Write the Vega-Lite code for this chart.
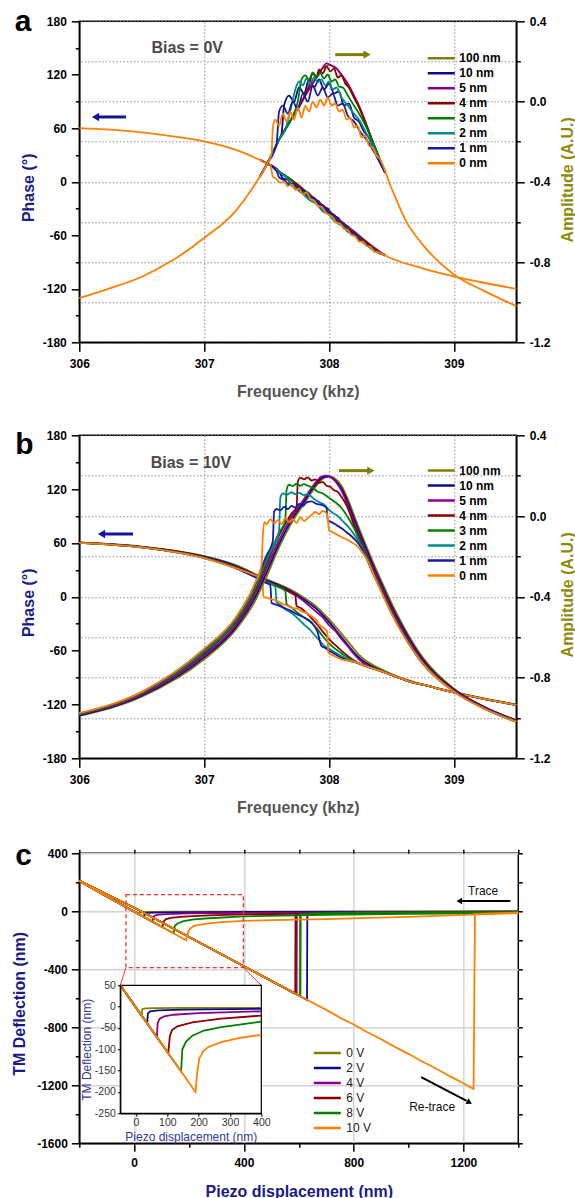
{
"$schema": "https://vega.github.io/schema/vega-lite/v6.json",
"padding": {"left": 10.3, "top": 5.3, "right": 0, "bottom": 0},
"background": "white",
"config": {
  "font": "Liberation Sans",
  "locale": {"number": {"decimal": ".", "thousands": ",", "grouping": [3], "currency": ["$", ""], "minus": "-"}},
  "view": {"stroke": "#000000", "strokeWidth": 1.5},
  "axis": {"labelFont": "Liberation Sans", "titleFont": "Liberation Sans", "labelFontWeight": "bold", "labelFontSize": 12, "labelColor": "#000000", "titleFontWeight": "bold", "titleFontSize": 16, "domainColor": "#000000", "domainWidth": 1.5, "tickColor": "#000000", "tickWidth": 1.5},
  "legend": {"labelFont": "Liberation Sans"},
  "text": {"font": "Liberation Sans"}
},
"datasets": {
"aP": [
{"s":"100 nm","x":307.45,"y":24.5},{"s":"100 nm","x":307.5,"y":21},{"s":"100 nm","x":307.6,"y":11.5},{"s":"100 nm","x":307.7,"y":2},{"s":"100 nm","x":307.8,"y":-9},{"s":"100 nm","x":307.9,"y":-20.5},{"s":"100 nm","x":308,"y":-32.5},{"s":"100 nm","x":308.1,"y":-44.5},{"s":"100 nm","x":308.2,"y":-55.5},{"s":"100 nm","x":308.3,"y":-67},{"s":"100 nm","x":308.4,"y":-78.5},{"s":"100 nm","x":308.45,"y":-82.5},
{"s":"10 nm","x":307.45,"y":24.5},{"s":"10 nm","x":307.5,"y":21},{"s":"10 nm","x":307.6,"y":11.5},{"s":"10 nm","x":307.63,"y":4},{"s":"10 nm","x":307.67,"y":2},{"s":"10 nm","x":307.71,"y":-5},{"s":"10 nm","x":307.75,"y":-4},{"s":"10 nm","x":307.79,"y":-12},{"s":"10 nm","x":307.83,"y":-12},{"s":"10 nm","x":307.87,"y":-20},{"s":"10 nm","x":307.91,"y":-21},{"s":"10 nm","x":307.95,"y":-28},{"s":"10 nm","x":307.99,"y":-30},{"s":"10 nm","x":308.03,"y":-38},{"s":"10 nm","x":308.07,"y":-40},{"s":"10 nm","x":308.11,"y":-48},{"s":"10 nm","x":308.15,"y":-50},{"s":"10 nm","x":308.2,"y":-58},{"s":"10 nm","x":308.25,"y":-64},{"s":"10 nm","x":308.3,"y":-70},{"s":"10 nm","x":308.36,"y":-76},{"s":"10 nm","x":308.45,"y":-82.5},
{"s":"5 nm","x":307.45,"y":24.5},{"s":"5 nm","x":307.5,"y":21},{"s":"5 nm","x":307.6,"y":11},{"s":"5 nm","x":307.7,"y":1},{"s":"5 nm","x":307.8,"y":-10},{"s":"5 nm","x":307.9,"y":-21},{"s":"5 nm","x":308,"y":-33},{"s":"5 nm","x":308.1,"y":-45},{"s":"5 nm","x":308.2,"y":-56},{"s":"5 nm","x":308.3,"y":-67.5},{"s":"5 nm","x":308.45,"y":-82.5},
{"s":"4 nm","x":307.45,"y":24.5},{"s":"4 nm","x":307.5,"y":21},{"s":"4 nm","x":307.6,"y":11.5},{"s":"4 nm","x":307.7,"y":2},{"s":"4 nm","x":307.8,"y":-9.5},{"s":"4 nm","x":307.85,"y":-17},{"s":"4 nm","x":307.9,"y":-22},{"s":"4 nm","x":307.95,"y":-30},{"s":"4 nm","x":308,"y":-34},{"s":"4 nm","x":308.05,"y":-42},{"s":"4 nm","x":308.1,"y":-46},{"s":"4 nm","x":308.15,"y":-53},{"s":"4 nm","x":308.2,"y":-57},{"s":"4 nm","x":308.25,"y":-63},{"s":"4 nm","x":308.3,"y":-68},{"s":"4 nm","x":308.35,"y":-74},{"s":"4 nm","x":308.45,"y":-82.5},
{"s":"3 nm","x":307.45,"y":24.5},{"s":"3 nm","x":307.5,"y":21},{"s":"3 nm","x":307.6,"y":11.5},{"s":"3 nm","x":307.7,"y":1.5},{"s":"3 nm","x":307.75,"y":-6},{"s":"3 nm","x":307.8,"y":-12},{"s":"3 nm","x":307.85,"y":-19},{"s":"3 nm","x":307.9,"y":-23},{"s":"3 nm","x":307.95,"y":-31},{"s":"3 nm","x":308,"y":-36},{"s":"3 nm","x":308.05,"y":-43},{"s":"3 nm","x":308.1,"y":-48},{"s":"3 nm","x":308.15,"y":-54},{"s":"3 nm","x":308.2,"y":-59},{"s":"3 nm","x":308.25,"y":-64},{"s":"3 nm","x":308.3,"y":-70},{"s":"3 nm","x":308.35,"y":-75},{"s":"3 nm","x":308.45,"y":-82.5},
{"s":"2 nm","x":307.45,"y":24.5},{"s":"2 nm","x":307.5,"y":21},{"s":"2 nm","x":307.6,"y":11.5},{"s":"2 nm","x":307.65,"y":6},{"s":"2 nm","x":307.7,"y":-3},{"s":"2 nm","x":307.75,"y":-9},{"s":"2 nm","x":307.8,"y":-15},{"s":"2 nm","x":307.85,"y":-21},{"s":"2 nm","x":307.9,"y":-25},{"s":"2 nm","x":307.95,"y":-33},{"s":"2 nm","x":308,"y":-37},{"s":"2 nm","x":308.05,"y":-45},{"s":"2 nm","x":308.1,"y":-49},{"s":"2 nm","x":308.15,"y":-56},{"s":"2 nm","x":308.2,"y":-60},{"s":"2 nm","x":308.25,"y":-66},{"s":"2 nm","x":308.3,"y":-71},{"s":"2 nm","x":308.35,"y":-76},{"s":"2 nm","x":308.45,"y":-82.5},
{"s":"1 nm","x":307.45,"y":24.5},{"s":"1 nm","x":307.5,"y":21},{"s":"1 nm","x":307.58,"y":12},{"s":"1 nm","x":307.6,"y":5},{"s":"1 nm","x":307.64,"y":2},{"s":"1 nm","x":307.68,"y":-3},{"s":"1 nm","x":307.72,"y":-2},{"s":"1 nm","x":307.76,"y":-9},{"s":"1 nm","x":307.8,"y":-10},{"s":"1 nm","x":307.84,"y":-17},{"s":"1 nm","x":307.88,"y":-18},{"s":"1 nm","x":307.92,"y":-25},{"s":"1 nm","x":307.96,"y":-27},{"s":"1 nm","x":308,"y":-35},{"s":"1 nm","x":308.04,"y":-37},{"s":"1 nm","x":308.08,"y":-45},{"s":"1 nm","x":308.12,"y":-47},{"s":"1 nm","x":308.16,"y":-55},{"s":"1 nm","x":308.2,"y":-58},{"s":"1 nm","x":308.25,"y":-65},{"s":"1 nm","x":308.3,"y":-70},{"s":"1 nm","x":308.36,"y":-77},{"s":"1 nm","x":308.45,"y":-82.5},
{"s":"0 nm","x":306,"y":60.3},{"s":"0 nm","x":306.25,"y":58.5},{"s":"0 nm","x":306.5,"y":55.5},{"s":"0 nm","x":306.75,"y":51},{"s":"0 nm","x":307,"y":45.4},{"s":"0 nm","x":307.25,"y":36},{"s":"0 nm","x":307.4,"y":27.5},{"s":"0 nm","x":307.5,"y":21},{"s":"0 nm","x":307.53,"y":19},{"s":"0 nm","x":307.55,"y":6},{"s":"0 nm","x":307.58,"y":3},{"s":"0 nm","x":307.61,"y":-1},{"s":"0 nm","x":307.64,"y":0},{"s":"0 nm","x":307.67,"y":-5},{"s":"0 nm","x":307.7,"y":-3},{"s":"0 nm","x":307.73,"y":-9},{"s":"0 nm","x":307.76,"y":-8},{"s":"0 nm","x":307.79,"y":-14},{"s":"0 nm","x":307.82,"y":-12},{"s":"0 nm","x":307.85,"y":-19},{"s":"0 nm","x":307.88,"y":-21},{"s":"0 nm","x":307.91,"y":-27},{"s":"0 nm","x":307.94,"y":-28},{"s":"0 nm","x":307.97,"y":-34},{"s":"0 nm","x":308,"y":-37},{"s":"0 nm","x":308.03,"y":-40},{"s":"0 nm","x":308.06,"y":-46},{"s":"0 nm","x":308.09,"y":-47},{"s":"0 nm","x":308.12,"y":-53},{"s":"0 nm","x":308.15,"y":-54},{"s":"0 nm","x":308.18,"y":-60},{"s":"0 nm","x":308.21,"y":-61},{"s":"0 nm","x":308.24,"y":-67},{"s":"0 nm","x":308.27,"y":-67},{"s":"0 nm","x":308.3,"y":-72},{"s":"0 nm","x":308.33,"y":-73},{"s":"0 nm","x":308.36,"y":-78},{"s":"0 nm","x":308.4,"y":-79.5},{"s":"0 nm","x":308.5,"y":-86},{"s":"0 nm","x":308.75,"y":-97},{"s":"0 nm","x":309,"y":-106},{"s":"0 nm","x":309.25,"y":-113.5},{"s":"0 nm","x":309.5,"y":-120}
],
"aA": [
{"s":"100 nm","x":307.45,"y":-0.37},{"s":"100 nm","x":307.5,"y":-0.315},{"s":"100 nm","x":307.6,"y":-0.19},{"s":"100 nm","x":307.7,"y":-0.085},{"s":"100 nm","x":307.8,"y":0.02},{"s":"100 nm","x":307.9,"y":0.125},{"s":"100 nm","x":307.95,"y":0.165},{"s":"100 nm","x":308,"y":0.182},{"s":"100 nm","x":308.05,"y":0.17},{"s":"100 nm","x":308.1,"y":0.13},{"s":"100 nm","x":308.2,"y":0.025},{"s":"100 nm","x":308.3,"y":-0.12},{"s":"100 nm","x":308.4,"y":-0.28},{"s":"100 nm","x":308.45,"y":-0.355},
{"s":"10 nm","x":307.45,"y":-0.37},{"s":"10 nm","x":307.5,"y":-0.315},{"s":"10 nm","x":307.6,"y":-0.19},{"s":"10 nm","x":307.62,"y":-0.16},{"s":"10 nm","x":307.64,"y":-0.02},{"s":"10 nm","x":307.68,"y":0.03},{"s":"10 nm","x":307.72,"y":0.0},{"s":"10 nm","x":307.76,"y":0.07},{"s":"10 nm","x":307.8,"y":0.04},{"s":"10 nm","x":307.84,"y":0.11},{"s":"10 nm","x":307.88,"y":0.07},{"s":"10 nm","x":307.92,"y":0.11},{"s":"10 nm","x":307.96,"y":0.06},{"s":"10 nm","x":308,"y":0.09},{"s":"10 nm","x":308.04,"y":0.04},{"s":"10 nm","x":308.08,"y":0.05},{"s":"10 nm","x":308.12,"y":-0.02},{"s":"10 nm","x":308.16,"y":-0.01},{"s":"10 nm","x":308.2,"y":-0.08},{"s":"10 nm","x":308.24,"y":-0.1},{"s":"10 nm","x":308.28,"y":-0.15},{"s":"10 nm","x":308.32,"y":-0.18},{"s":"10 nm","x":308.36,"y":-0.24},{"s":"10 nm","x":308.45,"y":-0.355},
{"s":"5 nm","x":307.45,"y":-0.37},{"s":"5 nm","x":307.5,"y":-0.315},{"s":"5 nm","x":307.6,"y":-0.19},{"s":"5 nm","x":307.7,"y":-0.085},{"s":"5 nm","x":307.8,"y":0.02},{"s":"5 nm","x":307.85,"y":0.07},{"s":"5 nm","x":307.9,"y":0.12},{"s":"5 nm","x":307.95,"y":0.17},{"s":"5 nm","x":307.98,"y":0.19},{"s":"5 nm","x":308.02,"y":0.18},{"s":"5 nm","x":308.06,"y":0.165},{"s":"5 nm","x":308.1,"y":0.135},{"s":"5 nm","x":308.15,"y":0.09},{"s":"5 nm","x":308.2,"y":0.03},{"s":"5 nm","x":308.25,"y":-0.035},{"s":"5 nm","x":308.3,"y":-0.115},{"s":"5 nm","x":308.35,"y":-0.2},{"s":"5 nm","x":308.45,"y":-0.355},
{"s":"4 nm","x":307.45,"y":-0.37},{"s":"4 nm","x":307.5,"y":-0.315},{"s":"4 nm","x":307.6,"y":-0.19},{"s":"4 nm","x":307.7,"y":-0.085},{"s":"4 nm","x":307.8,"y":0.02},{"s":"4 nm","x":307.84,"y":0.08},{"s":"4 nm","x":307.87,"y":0.14},{"s":"4 nm","x":307.9,"y":0.12},{"s":"4 nm","x":307.92,"y":0.16},{"s":"4 nm","x":307.95,"y":0.14},{"s":"4 nm","x":307.98,"y":0.175},{"s":"4 nm","x":308.01,"y":0.15},{"s":"4 nm","x":308.04,"y":0.165},{"s":"4 nm","x":308.07,"y":0.12},{"s":"4 nm","x":308.1,"y":0.13},{"s":"4 nm","x":308.13,"y":0.09},{"s":"4 nm","x":308.16,"y":0.07},{"s":"4 nm","x":308.2,"y":0.02},{"s":"4 nm","x":308.25,"y":-0.04},{"s":"4 nm","x":308.3,"y":-0.12},{"s":"4 nm","x":308.35,"y":-0.2},{"s":"4 nm","x":308.45,"y":-0.355},
{"s":"3 nm","x":307.45,"y":-0.37},{"s":"3 nm","x":307.5,"y":-0.315},{"s":"3 nm","x":307.6,"y":-0.19},{"s":"3 nm","x":307.7,"y":-0.085},{"s":"3 nm","x":307.75,"y":0.0},{"s":"3 nm","x":307.78,"y":0.11},{"s":"3 nm","x":307.81,"y":0.13},{"s":"3 nm","x":307.84,"y":0.11},{"s":"3 nm","x":307.87,"y":0.145},{"s":"3 nm","x":307.9,"y":0.12},{"s":"3 nm","x":307.93,"y":0.14},{"s":"3 nm","x":307.96,"y":0.115},{"s":"3 nm","x":307.99,"y":0.135},{"s":"3 nm","x":308.02,"y":0.1},{"s":"3 nm","x":308.05,"y":0.11},{"s":"3 nm","x":308.08,"y":0.075},{"s":"3 nm","x":308.11,"y":0.07},{"s":"3 nm","x":308.15,"y":0.03},{"s":"3 nm","x":308.2,"y":-0.02},{"s":"3 nm","x":308.25,"y":-0.07},{"s":"3 nm","x":308.3,"y":-0.13},{"s":"3 nm","x":308.35,"y":-0.2},{"s":"3 nm","x":308.45,"y":-0.355},
{"s":"2 nm","x":307.45,"y":-0.37},{"s":"2 nm","x":307.5,"y":-0.315},{"s":"2 nm","x":307.6,"y":-0.19},{"s":"2 nm","x":307.65,"y":-0.14},{"s":"2 nm","x":307.7,"y":-0.02},{"s":"2 nm","x":307.73,"y":0.06},{"s":"2 nm","x":307.76,"y":0.1},{"s":"2 nm","x":307.79,"y":0.08},{"s":"2 nm","x":307.82,"y":0.115},{"s":"2 nm","x":307.85,"y":0.09},{"s":"2 nm","x":307.88,"y":0.12},{"s":"2 nm","x":307.91,"y":0.095},{"s":"2 nm","x":307.94,"y":0.11},{"s":"2 nm","x":307.97,"y":0.08},{"s":"2 nm","x":308,"y":0.1},{"s":"2 nm","x":308.03,"y":0.06},{"s":"2 nm","x":308.06,"y":0.07},{"s":"2 nm","x":308.1,"y":0.02},{"s":"2 nm","x":308.15,"y":-0.02},{"s":"2 nm","x":308.2,"y":-0.06},{"s":"2 nm","x":308.25,"y":-0.1},{"s":"2 nm","x":308.3,"y":-0.16},{"s":"2 nm","x":308.35,"y":-0.22},{"s":"2 nm","x":308.45,"y":-0.355},
{"s":"1 nm","x":307.45,"y":-0.37},{"s":"1 nm","x":307.5,"y":-0.315},{"s":"1 nm","x":307.58,"y":-0.21},{"s":"1 nm","x":307.6,"y":-0.05},{"s":"1 nm","x":307.63,"y":-0.02},{"s":"1 nm","x":307.67,"y":-0.06},{"s":"1 nm","x":307.71,"y":0.0},{"s":"1 nm","x":307.75,"y":-0.04},{"s":"1 nm","x":307.79,"y":0.04},{"s":"1 nm","x":307.83,"y":0.0},{"s":"1 nm","x":307.87,"y":0.08},{"s":"1 nm","x":307.91,"y":0.03},{"s":"1 nm","x":307.95,"y":0.07},{"s":"1 nm","x":307.99,"y":0.02},{"s":"1 nm","x":308.03,"y":0.04},{"s":"1 nm","x":308.07,"y":-0.02},{"s":"1 nm","x":308.11,"y":-0.01},{"s":"1 nm","x":308.15,"y":-0.07},{"s":"1 nm","x":308.2,"y":-0.1},{"s":"1 nm","x":308.25,"y":-0.15},{"s":"1 nm","x":308.3,"y":-0.19},{"s":"1 nm","x":308.36,"y":-0.25},{"s":"1 nm","x":308.45,"y":-0.355},
{"s":"0 nm","x":306,"y":-0.98},{"s":"0 nm","x":306.25,"y":-0.93},{"s":"0 nm","x":306.5,"y":-0.873},{"s":"0 nm","x":306.75,"y":-0.79},{"s":"0 nm","x":307,"y":-0.68},{"s":"0 nm","x":307.25,"y":-0.547},{"s":"0 nm","x":307.4,"y":-0.42},{"s":"0 nm","x":307.5,"y":-0.315},{"s":"0 nm","x":307.54,"y":-0.26},{"s":"0 nm","x":307.55,"y":-0.13},{"s":"0 nm","x":307.57,"y":-0.09},{"s":"0 nm","x":307.6,"y":-0.12},{"s":"0 nm","x":307.63,"y":-0.06},{"s":"0 nm","x":307.66,"y":-0.1},{"s":"0 nm","x":307.69,"y":-0.05},{"s":"0 nm","x":307.72,"y":-0.09},{"s":"0 nm","x":307.75,"y":-0.03},{"s":"0 nm","x":307.78,"y":-0.08},{"s":"0 nm","x":307.81,"y":-0.02},{"s":"0 nm","x":307.84,"y":-0.05},{"s":"0 nm","x":307.87,"y":0.0},{"s":"0 nm","x":307.9,"y":-0.03},{"s":"0 nm","x":307.93,"y":0.01},{"s":"0 nm","x":307.96,"y":-0.02},{"s":"0 nm","x":307.99,"y":0.02},{"s":"0 nm","x":308.02,"y":-0.02},{"s":"0 nm","x":308.05,"y":-0.01},{"s":"0 nm","x":308.08,"y":-0.05},{"s":"0 nm","x":308.11,"y":-0.04},{"s":"0 nm","x":308.14,"y":-0.09},{"s":"0 nm","x":308.17,"y":-0.08},{"s":"0 nm","x":308.2,"y":-0.13},{"s":"0 nm","x":308.23,"y":-0.12},{"s":"0 nm","x":308.26,"y":-0.18},{"s":"0 nm","x":308.29,"y":-0.17},{"s":"0 nm","x":308.32,"y":-0.22},{"s":"0 nm","x":308.35,"y":-0.23},{"s":"0 nm","x":308.38,"y":-0.27},{"s":"0 nm","x":308.4,"y":-0.28},{"s":"0 nm","x":308.5,"y":-0.431},{"s":"0 nm","x":308.62,"y":-0.6},{"s":"0 nm","x":308.75,"y":-0.713},{"s":"0 nm","x":309,"y":-0.862},{"s":"0 nm","x":309.25,"y":-0.946},{"s":"0 nm","x":309.5,"y":-1.02}
],
"bP": [
{"s":"100 nm","x":306,"y":60.5},{"s":"100 nm","x":306.5,"y":56},{"s":"100 nm","x":307,"y":45.5},{"s":"100 nm","x":307.25,"y":35.5},{"s":"100 nm","x":307.4,"y":26},{"s":"100 nm","x":307.5,"y":19.5},{"s":"100 nm","x":307.6,"y":14},{"s":"100 nm","x":307.7,"y":7.5},{"s":"100 nm","x":307.8,"y":-1},{"s":"100 nm","x":307.9,"y":-11},{"s":"100 nm","x":308,"y":-25},{"s":"100 nm","x":308.1,"y":-41},{"s":"100 nm","x":308.2,"y":-58},{"s":"100 nm","x":308.25,"y":-66},{"s":"100 nm","x":308.3,"y":-71.5},{"s":"100 nm","x":308.4,"y":-79.5},{"s":"100 nm","x":308.5,"y":-86},{"s":"100 nm","x":308.66,"y":-94},{"s":"100 nm","x":308.75,"y":-97.5},{"s":"100 nm","x":309,"y":-106},{"s":"100 nm","x":309.25,"y":-113.5},{"s":"100 nm","x":309.5,"y":-120},
{"s":"10 nm","x":306,"y":60.4},{"s":"10 nm","x":306.5,"y":55.7},{"s":"10 nm","x":307,"y":44.8},{"s":"10 nm","x":307.25,"y":34.6},{"s":"10 nm","x":307.4,"y":25},{"s":"10 nm","x":307.5,"y":18.4},{"s":"10 nm","x":307.6,"y":12.8},{"s":"10 nm","x":307.7,"y":6},{"s":"10 nm","x":307.8,"y":-3},{"s":"10 nm","x":307.9,"y":-13.5},{"s":"10 nm","x":308,"y":-28},{"s":"10 nm","x":308.1,"y":-45},{"s":"10 nm","x":308.2,"y":-62},{"s":"10 nm","x":308.25,"y":-69},{"s":"10 nm","x":308.3,"y":-74},{"s":"10 nm","x":308.4,"y":-81},{"s":"10 nm","x":308.5,"y":-87},{"s":"10 nm","x":308.66,"y":-95},{"s":"10 nm","x":308.75,"y":-98},{"s":"10 nm","x":309,"y":-106.5},{"s":"10 nm","x":309.25,"y":-114},{"s":"10 nm","x":309.5,"y":-120.5},
{"s":"5 nm","x":306,"y":60.3},{"s":"5 nm","x":306.5,"y":55.4},{"s":"5 nm","x":307,"y":44.1},{"s":"5 nm","x":307.25,"y":33.6},{"s":"5 nm","x":307.4,"y":24},{"s":"5 nm","x":307.5,"y":17.4},{"s":"5 nm","x":307.6,"y":11.6},{"s":"5 nm","x":307.7,"y":4.5},{"s":"5 nm","x":307.8,"y":-5},{"s":"5 nm","x":307.85,"y":-11},{"s":"5 nm","x":307.9,"y":-17},{"s":"5 nm","x":307.95,"y":-23},{"s":"5 nm","x":308,"y":-31.5},{"s":"5 nm","x":308.05,"y":-38},{"s":"5 nm","x":308.1,"y":-47},{"s":"5 nm","x":308.15,"y":-55},{"s":"5 nm","x":308.2,"y":-64},{"s":"5 nm","x":308.25,"y":-71},{"s":"5 nm","x":308.3,"y":-76},{"s":"5 nm","x":308.4,"y":-82},{"s":"5 nm","x":308.5,"y":-87},{"s":"5 nm","x":308.66,"y":-95},{"s":"5 nm","x":308.75,"y":-98},{"s":"5 nm","x":309,"y":-106.5},{"s":"5 nm","x":309.25,"y":-114},{"s":"5 nm","x":309.5,"y":-120.5},
{"s":"4 nm","x":306,"y":60.3},{"s":"4 nm","x":306.5,"y":55.3},{"s":"4 nm","x":307,"y":44},{"s":"4 nm","x":307.25,"y":33.3},{"s":"4 nm","x":307.4,"y":23.7},{"s":"4 nm","x":307.5,"y":17},{"s":"4 nm","x":307.6,"y":11.2},{"s":"4 nm","x":307.7,"y":4},{"s":"4 nm","x":307.73,"y":1.5},{"s":"4 nm","x":307.74,"y":-10},{"s":"4 nm","x":307.78,"y":-13},{"s":"4 nm","x":307.82,"y":-18},{"s":"4 nm","x":307.86,"y":-24},{"s":"4 nm","x":307.9,"y":-30},{"s":"4 nm","x":307.94,"y":-37},{"s":"4 nm","x":307.98,"y":-44},{"s":"4 nm","x":308.02,"y":-50},{"s":"4 nm","x":308.06,"y":-55},{"s":"4 nm","x":308.1,"y":-60},{"s":"4 nm","x":308.15,"y":-66},{"s":"4 nm","x":308.23,"y":-73.7},{"s":"4 nm","x":308.3,"y":-77.5},{"s":"4 nm","x":308.4,"y":-82},{"s":"4 nm","x":308.5,"y":-87},{"s":"4 nm","x":308.66,"y":-95},{"s":"4 nm","x":308.75,"y":-98},{"s":"4 nm","x":309,"y":-106.5},{"s":"4 nm","x":309.25,"y":-114},{"s":"4 nm","x":309.5,"y":-120.5},
{"s":"3 nm","x":306,"y":60.2},{"s":"3 nm","x":306.5,"y":55.2},{"s":"3 nm","x":307,"y":43.6},{"s":"3 nm","x":307.25,"y":32.8},{"s":"3 nm","x":307.4,"y":23.2},{"s":"3 nm","x":307.5,"y":16.4},{"s":"3 nm","x":307.6,"y":10.5},{"s":"3 nm","x":307.65,"y":6.5},{"s":"3 nm","x":307.66,"y":-8},{"s":"3 nm","x":307.7,"y":-12},{"s":"3 nm","x":307.75,"y":-18},{"s":"3 nm","x":307.8,"y":-23},{"s":"3 nm","x":307.85,"y":-28},{"s":"3 nm","x":307.9,"y":-35},{"s":"3 nm","x":307.95,"y":-44},{"s":"3 nm","x":308,"y":-52},{"s":"3 nm","x":308.05,"y":-58},{"s":"3 nm","x":308.1,"y":-63},{"s":"3 nm","x":308.15,"y":-68},{"s":"3 nm","x":308.23,"y":-73.7},{"s":"3 nm","x":308.3,"y":-77.5},{"s":"3 nm","x":308.4,"y":-82},{"s":"3 nm","x":308.5,"y":-87},{"s":"3 nm","x":308.66,"y":-95},{"s":"3 nm","x":308.75,"y":-98},{"s":"3 nm","x":309,"y":-106.5},{"s":"3 nm","x":309.25,"y":-114},{"s":"3 nm","x":309.5,"y":-120.5},
{"s":"2 nm","x":306,"y":60.2},{"s":"2 nm","x":306.5,"y":55.1},{"s":"2 nm","x":307,"y":43.3},{"s":"2 nm","x":307.25,"y":32.3},{"s":"2 nm","x":307.4,"y":22.8},{"s":"2 nm","x":307.5,"y":15.8},{"s":"2 nm","x":307.57,"y":11},{"s":"2 nm","x":307.58,"y":-6},{"s":"2 nm","x":307.61,"y":-9},{"s":"2 nm","x":307.65,"y":-14},{"s":"2 nm","x":307.7,"y":-18},{"s":"2 nm","x":307.75,"y":-24},{"s":"2 nm","x":307.8,"y":-31},{"s":"2 nm","x":307.85,"y":-37},{"s":"2 nm","x":307.88,"y":-42},{"s":"2 nm","x":307.92,"y":-48},{"s":"2 nm","x":307.95,"y":-53},{"s":"2 nm","x":308,"y":-58},{"s":"2 nm","x":308.05,"y":-62},{"s":"2 nm","x":308.1,"y":-66},{"s":"2 nm","x":308.15,"y":-70},{"s":"2 nm","x":308.23,"y":-73.7},{"s":"2 nm","x":308.3,"y":-77.5},{"s":"2 nm","x":308.4,"y":-82},{"s":"2 nm","x":308.5,"y":-87},{"s":"2 nm","x":308.66,"y":-95},{"s":"2 nm","x":308.75,"y":-98},{"s":"2 nm","x":309,"y":-106.5},{"s":"2 nm","x":309.25,"y":-114},{"s":"2 nm","x":309.5,"y":-120.5},
{"s":"1 nm","x":306,"y":60.1},{"s":"1 nm","x":306.5,"y":55},{"s":"1 nm","x":307,"y":43},{"s":"1 nm","x":307.25,"y":31.9},{"s":"1 nm","x":307.4,"y":22.4},{"s":"1 nm","x":307.5,"y":15.2},{"s":"1 nm","x":307.53,"y":13},{"s":"1 nm","x":307.54,"y":-7},{"s":"1 nm","x":307.58,"y":-9},{"s":"1 nm","x":307.64,"y":-12.4},{"s":"1 nm","x":307.7,"y":-16},{"s":"1 nm","x":307.75,"y":-20},{"s":"1 nm","x":307.8,"y":-23},{"s":"1 nm","x":307.83,"y":-25.4},{"s":"1 nm","x":307.87,"y":-30},{"s":"1 nm","x":307.91,"y":-40},{"s":"1 nm","x":307.94,"y":-55},{"s":"1 nm","x":307.97,"y":-57},{"s":"1 nm","x":308,"y":-60},{"s":"1 nm","x":308.05,"y":-64},{"s":"1 nm","x":308.1,"y":-68},{"s":"1 nm","x":308.15,"y":-71},{"s":"1 nm","x":308.23,"y":-73.7},{"s":"1 nm","x":308.3,"y":-77.5},{"s":"1 nm","x":308.4,"y":-82},{"s":"1 nm","x":308.5,"y":-87},{"s":"1 nm","x":308.66,"y":-95},{"s":"1 nm","x":308.75,"y":-98},{"s":"1 nm","x":309,"y":-106.5},{"s":"1 nm","x":309.25,"y":-114},{"s":"1 nm","x":309.5,"y":-120.5},
{"s":"0 nm","x":306,"y":60.1},{"s":"0 nm","x":306.5,"y":55},{"s":"0 nm","x":307,"y":43},{"s":"0 nm","x":307.25,"y":31.9},{"s":"0 nm","x":307.43,"y":22.8},{"s":"0 nm","x":307.465,"y":20.5},{"s":"0 nm","x":307.475,"y":0},{"s":"0 nm","x":307.5,"y":-1},{"s":"0 nm","x":307.55,"y":-3},{"s":"0 nm","x":307.59,"y":-5},{"s":"0 nm","x":307.63,"y":-8},{"s":"0 nm","x":307.67,"y":-10},{"s":"0 nm","x":307.7,"y":-12.4},{"s":"0 nm","x":307.75,"y":-13.5},{"s":"0 nm","x":307.78,"y":-16},{"s":"0 nm","x":307.82,"y":-18},{"s":"0 nm","x":307.86,"y":-21.7},{"s":"0 nm","x":307.9,"y":-26},{"s":"0 nm","x":307.92,"y":-31},{"s":"0 nm","x":307.95,"y":-34},{"s":"0 nm","x":307.985,"y":-38.5},{"s":"0 nm","x":307.995,"y":-62},{"s":"0 nm","x":308.02,"y":-64.5},{"s":"0 nm","x":308.06,"y":-67},{"s":"0 nm","x":308.1,"y":-70},{"s":"0 nm","x":308.15,"y":-71},{"s":"0 nm","x":308.23,"y":-73.7},{"s":"0 nm","x":308.3,"y":-77.5},{"s":"0 nm","x":308.4,"y":-82},{"s":"0 nm","x":308.5,"y":-87},{"s":"0 nm","x":308.66,"y":-95},{"s":"0 nm","x":308.75,"y":-98},{"s":"0 nm","x":309,"y":-106.5},{"s":"0 nm","x":309.25,"y":-114},{"s":"0 nm","x":309.5,"y":-120.5}
],
"bA": [
{"s":"100 nm","x":306,"y":-0.99},{"s":"100 nm","x":306.5,"y":-0.895},{"s":"100 nm","x":307,"y":-0.71},{"s":"100 nm","x":307.25,"y":-0.565},{"s":"100 nm","x":307.4,"y":-0.43},{"s":"100 nm","x":307.5,"y":-0.3},{"s":"100 nm","x":307.6,"y":-0.155},{"s":"100 nm","x":307.7,"y":-0.035},{"s":"100 nm","x":307.8,"y":0.06},{"s":"100 nm","x":307.9,"y":0.15},{"s":"100 nm","x":307.95,"y":0.185},{"s":"100 nm","x":308,"y":0.198},{"s":"100 nm","x":308.05,"y":0.185},{"s":"100 nm","x":308.1,"y":0.15},{"s":"100 nm","x":308.15,"y":0.085},{"s":"100 nm","x":308.2,"y":0.005},{"s":"100 nm","x":308.25,"y":-0.075},{"s":"100 nm","x":308.3,"y":-0.15},{"s":"100 nm","x":308.35,"y":-0.225},{"s":"100 nm","x":308.4,"y":-0.295},{"s":"100 nm","x":308.5,"y":-0.43},{"s":"100 nm","x":308.6,"y":-0.55},{"s":"100 nm","x":308.75,"y":-0.7},{"s":"100 nm","x":309,"y":-0.855},{"s":"100 nm","x":309.25,"y":-0.947},{"s":"100 nm","x":309.5,"y":-1.012},
{"s":"10 nm","x":306,"y":-0.988},{"s":"10 nm","x":306.5,"y":-0.89},{"s":"10 nm","x":307,"y":-0.7},{"s":"10 nm","x":307.25,"y":-0.554},{"s":"10 nm","x":307.4,"y":-0.413},{"s":"10 nm","x":307.5,"y":-0.279},{"s":"10 nm","x":307.6,"y":-0.138},{"s":"10 nm","x":307.7,"y":-0.02},{"s":"10 nm","x":307.8,"y":0.072},{"s":"10 nm","x":307.9,"y":0.162},{"s":"10 nm","x":307.95,"y":0.19},{"s":"10 nm","x":308,"y":0.195},{"s":"10 nm","x":308.05,"y":0.177},{"s":"10 nm","x":308.1,"y":0.138},{"s":"10 nm","x":308.15,"y":0.07},{"s":"10 nm","x":308.2,"y":-0.012},{"s":"10 nm","x":308.25,"y":-0.09},{"s":"10 nm","x":308.3,"y":-0.165},{"s":"10 nm","x":308.35,"y":-0.24},{"s":"10 nm","x":308.4,"y":-0.31},{"s":"10 nm","x":308.5,"y":-0.445},{"s":"10 nm","x":308.6,"y":-0.562},{"s":"10 nm","x":308.75,"y":-0.71},{"s":"10 nm","x":309,"y":-0.858},{"s":"10 nm","x":309.25,"y":-0.948},{"s":"10 nm","x":309.5,"y":-1.012},
{"s":"5 nm","x":306,"y":-0.985},{"s":"5 nm","x":306.5,"y":-0.886},{"s":"5 nm","x":307,"y":-0.69},{"s":"5 nm","x":307.25,"y":-0.543},{"s":"5 nm","x":307.4,"y":-0.397},{"s":"5 nm","x":307.5,"y":-0.258},{"s":"5 nm","x":307.6,"y":-0.118},{"s":"5 nm","x":307.7,"y":-0.005},{"s":"5 nm","x":307.8,"y":0.085},{"s":"5 nm","x":307.85,"y":0.13},{"s":"5 nm","x":307.9,"y":0.172},{"s":"5 nm","x":307.94,"y":0.195},{"s":"5 nm","x":307.98,"y":0.2},{"s":"5 nm","x":308.02,"y":0.19},{"s":"5 nm","x":308.06,"y":0.165},{"s":"5 nm","x":308.1,"y":0.125},{"s":"5 nm","x":308.15,"y":0.055},{"s":"5 nm","x":308.2,"y":-0.03},{"s":"5 nm","x":308.25,"y":-0.105},{"s":"5 nm","x":308.3,"y":-0.18},{"s":"5 nm","x":308.35,"y":-0.255},{"s":"5 nm","x":308.4,"y":-0.322},{"s":"5 nm","x":308.5,"y":-0.458},{"s":"5 nm","x":308.6,"y":-0.574},{"s":"5 nm","x":308.75,"y":-0.718},{"s":"5 nm","x":309,"y":-0.862},{"s":"5 nm","x":309.25,"y":-0.95},{"s":"5 nm","x":309.5,"y":-1.014},
{"s":"4 nm","x":306,"y":-0.983},{"s":"4 nm","x":306.5,"y":-0.88},{"s":"4 nm","x":307,"y":-0.68},{"s":"4 nm","x":307.25,"y":-0.53},{"s":"4 nm","x":307.4,"y":-0.38},{"s":"4 nm","x":307.5,"y":-0.237},{"s":"4 nm","x":307.6,"y":-0.094},{"s":"4 nm","x":307.7,"y":0.012},{"s":"4 nm","x":307.74,"y":0.045},{"s":"4 nm","x":307.75,"y":0.17},{"s":"4 nm","x":307.77,"y":0.19},{"s":"4 nm","x":307.8,"y":0.182},{"s":"4 nm","x":307.83,"y":0.192},{"s":"4 nm","x":307.86,"y":0.176},{"s":"4 nm","x":307.89,"y":0.182},{"s":"4 nm","x":307.92,"y":0.165},{"s":"4 nm","x":307.95,"y":0.168},{"s":"4 nm","x":307.98,"y":0.15},{"s":"4 nm","x":308.01,"y":0.145},{"s":"4 nm","x":308.04,"y":0.128},{"s":"4 nm","x":308.07,"y":0.12},{"s":"4 nm","x":308.1,"y":0.095},{"s":"4 nm","x":308.15,"y":0.04},{"s":"4 nm","x":308.2,"y":-0.045},{"s":"4 nm","x":308.25,"y":-0.12},{"s":"4 nm","x":308.3,"y":-0.195},{"s":"4 nm","x":308.35,"y":-0.27},{"s":"4 nm","x":308.4,"y":-0.335},{"s":"4 nm","x":308.5,"y":-0.47},{"s":"4 nm","x":308.6,"y":-0.585},{"s":"4 nm","x":308.75,"y":-0.725},{"s":"4 nm","x":309,"y":-0.866},{"s":"4 nm","x":309.25,"y":-0.953},{"s":"4 nm","x":309.5,"y":-1.016},
{"s":"3 nm","x":306,"y":-0.982},{"s":"3 nm","x":306.5,"y":-0.878},{"s":"3 nm","x":307,"y":-0.674},{"s":"3 nm","x":307.25,"y":-0.524},{"s":"3 nm","x":307.4,"y":-0.37},{"s":"3 nm","x":307.5,"y":-0.225},{"s":"3 nm","x":307.6,"y":-0.082},{"s":"3 nm","x":307.65,"y":-0.025},{"s":"3 nm","x":307.66,"y":0.13},{"s":"3 nm","x":307.68,"y":0.155},{"s":"3 nm","x":307.71,"y":0.148},{"s":"3 nm","x":307.74,"y":0.16},{"s":"3 nm","x":307.77,"y":0.15},{"s":"3 nm","x":307.8,"y":0.158},{"s":"3 nm","x":307.83,"y":0.15},{"s":"3 nm","x":307.87,"y":0.14},{"s":"3 nm","x":307.91,"y":0.12},{"s":"3 nm","x":307.95,"y":0.112},{"s":"3 nm","x":308,"y":0.09},{"s":"3 nm","x":308.05,"y":0.068},{"s":"3 nm","x":308.1,"y":0.04},{"s":"3 nm","x":308.15,"y":-0.005},{"s":"3 nm","x":308.2,"y":-0.06},{"s":"3 nm","x":308.25,"y":-0.13},{"s":"3 nm","x":308.3,"y":-0.2},{"s":"3 nm","x":308.35,"y":-0.275},{"s":"3 nm","x":308.4,"y":-0.34},{"s":"3 nm","x":308.5,"y":-0.475},{"s":"3 nm","x":308.6,"y":-0.59},{"s":"3 nm","x":308.75,"y":-0.728},{"s":"3 nm","x":309,"y":-0.868},{"s":"3 nm","x":309.25,"y":-0.954},{"s":"3 nm","x":309.5,"y":-1.017},
{"s":"2 nm","x":306,"y":-0.98},{"s":"2 nm","x":306.5,"y":-0.876},{"s":"2 nm","x":307,"y":-0.668},{"s":"2 nm","x":307.25,"y":-0.516},{"s":"2 nm","x":307.4,"y":-0.36},{"s":"2 nm","x":307.5,"y":-0.21},{"s":"2 nm","x":307.6,"y":-0.075},{"s":"2 nm","x":307.61,"y":0.09},{"s":"2 nm","x":307.63,"y":0.112},{"s":"2 nm","x":307.66,"y":0.105},{"s":"2 nm","x":307.7,"y":0.118},{"s":"2 nm","x":307.73,"y":0.108},{"s":"2 nm","x":307.76,"y":0.115},{"s":"2 nm","x":307.8,"y":0.104},{"s":"2 nm","x":307.83,"y":0.108},{"s":"2 nm","x":307.88,"y":0.085},{"s":"2 nm","x":307.92,"y":0.07},{"s":"2 nm","x":307.96,"y":0.057},{"s":"2 nm","x":308,"y":0.03},{"s":"2 nm","x":308.04,"y":0.012},{"s":"2 nm","x":308.07,"y":0.0},{"s":"2 nm","x":308.11,"y":-0.025},{"s":"2 nm","x":308.15,"y":-0.05},{"s":"2 nm","x":308.2,"y":-0.09},{"s":"2 nm","x":308.25,"y":-0.14},{"s":"2 nm","x":308.3,"y":-0.205},{"s":"2 nm","x":308.35,"y":-0.28},{"s":"2 nm","x":308.4,"y":-0.345},{"s":"2 nm","x":308.5,"y":-0.478},{"s":"2 nm","x":308.6,"y":-0.592},{"s":"2 nm","x":308.75,"y":-0.73},{"s":"2 nm","x":309,"y":-0.868},{"s":"2 nm","x":309.25,"y":-0.955},{"s":"2 nm","x":309.5,"y":-1.018},
{"s":"1 nm","x":306,"y":-0.979},{"s":"1 nm","x":306.5,"y":-0.873},{"s":"1 nm","x":307,"y":-0.66},{"s":"1 nm","x":307.25,"y":-0.509},{"s":"1 nm","x":307.4,"y":-0.348},{"s":"1 nm","x":307.5,"y":-0.195},{"s":"1 nm","x":307.55,"y":-0.125},{"s":"1 nm","x":307.56,"y":0.02},{"s":"1 nm","x":307.58,"y":0.035},{"s":"1 nm","x":307.61,"y":0.028},{"s":"1 nm","x":307.64,"y":0.045},{"s":"1 nm","x":307.67,"y":0.035},{"s":"1 nm","x":307.7,"y":0.05},{"s":"1 nm","x":307.73,"y":0.042},{"s":"1 nm","x":307.76,"y":0.06},{"s":"1 nm","x":307.79,"y":0.05},{"s":"1 nm","x":307.82,"y":0.068},{"s":"1 nm","x":307.86,"y":0.073},{"s":"1 nm","x":307.9,"y":0.06},{"s":"1 nm","x":307.94,"y":0.055},{"s":"1 nm","x":307.98,"y":0.04},{"s":"1 nm","x":307.99,"y":-0.02},{"s":"1 nm","x":308.02,"y":-0.03},{"s":"1 nm","x":308.06,"y":-0.045},{"s":"1 nm","x":308.1,"y":-0.06},{"s":"1 nm","x":308.14,"y":-0.08},{"s":"1 nm","x":308.18,"y":-0.1},{"s":"1 nm","x":308.22,"y":-0.125},{"s":"1 nm","x":308.26,"y":-0.16},{"s":"1 nm","x":308.3,"y":-0.21},{"s":"1 nm","x":308.35,"y":-0.28},{"s":"1 nm","x":308.4,"y":-0.345},{"s":"1 nm","x":308.5,"y":-0.48},{"s":"1 nm","x":308.6,"y":-0.592},{"s":"1 nm","x":308.75,"y":-0.73},{"s":"1 nm","x":309,"y":-0.868},{"s":"1 nm","x":309.25,"y":-0.955},{"s":"1 nm","x":309.5,"y":-1.02},
{"s":"0 nm","x":306,"y":-0.976},{"s":"0 nm","x":306.5,"y":-0.871},{"s":"0 nm","x":307,"y":-0.658},{"s":"0 nm","x":307.25,"y":-0.505},{"s":"0 nm","x":307.4,"y":-0.342},{"s":"0 nm","x":307.46,"y":-0.24},{"s":"0 nm","x":307.47,"y":-0.1},{"s":"0 nm","x":307.48,"y":-0.03},{"s":"0 nm","x":307.5,"y":-0.04},{"s":"0 nm","x":307.53,"y":-0.015},{"s":"0 nm","x":307.56,"y":-0.035},{"s":"0 nm","x":307.59,"y":-0.02},{"s":"0 nm","x":307.62,"y":-0.04},{"s":"0 nm","x":307.65,"y":-0.01},{"s":"0 nm","x":307.68,"y":-0.03},{"s":"0 nm","x":307.71,"y":-0.015},{"s":"0 nm","x":307.74,"y":-0.035},{"s":"0 nm","x":307.77,"y":-0.005},{"s":"0 nm","x":307.8,"y":-0.025},{"s":"0 nm","x":307.83,"y":-0.01},{"s":"0 nm","x":307.86,"y":0.005},{"s":"0 nm","x":307.89,"y":0.02},{"s":"0 nm","x":307.92,"y":0.01},{"s":"0 nm","x":307.95,"y":0.025},{"s":"0 nm","x":307.98,"y":0.015},{"s":"0 nm","x":307.99,"y":-0.01},{"s":"0 nm","x":308,"y":-0.07},{"s":"0 nm","x":308.03,"y":-0.08},{"s":"0 nm","x":308.06,"y":-0.09},{"s":"0 nm","x":308.1,"y":-0.105},{"s":"0 nm","x":308.14,"y":-0.115},{"s":"0 nm","x":308.18,"y":-0.13},{"s":"0 nm","x":308.22,"y":-0.145},{"s":"0 nm","x":308.26,"y":-0.175},{"s":"0 nm","x":308.3,"y":-0.21},{"s":"0 nm","x":308.35,"y":-0.28},{"s":"0 nm","x":308.4,"y":-0.35},{"s":"0 nm","x":308.5,"y":-0.482},{"s":"0 nm","x":308.6,"y":-0.595},{"s":"0 nm","x":308.75,"y":-0.73},{"s":"0 nm","x":309,"y":-0.87},{"s":"0 nm","x":309.25,"y":-0.956},{"s":"0 nm","x":309.5,"y":-1.02}
],
"c": [
{"s":"0 V","k":"t","x":-200,"y":210},{"s":"0 V","k":"t","x":-150,"y":156},{"s":"0 V","k":"t","x":-100,"y":103},{"s":"0 V","k":"t","x":-50,"y":50},{"s":"0 V","k":"t","x":0,"y":-2},{"s":"0 V","k":"t","x":18,"y":-21},{"s":"0 V","k":"t","x":20,"y":-6},{"s":"0 V","k":"t","x":30,"y":-4},{"s":"0 V","k":"t","x":60,"y":-3.5},{"s":"0 V","k":"t","x":150,"y":-3},{"s":"0 V","k":"t","x":400,"y":-3},{"s":"0 V","k":"t","x":800,"y":-2},{"s":"0 V","k":"t","x":1400,"y":-1},
{"s":"0 V","k":"r","x":-200,"y":212},{"s":"0 V","k":"r","x":-100,"y":118},{"s":"0 V","k":"r","x":0,"y":24},{"s":"0 V","k":"r","x":25,"y":0},{"s":"0 V","k":"r","x":100,"y":-76},{"s":"0 V","k":"r","x":200,"y":-177},{"s":"0 V","k":"r","x":400,"y":-379},{"s":"0 V","k":"r","x":603,"y":-584},{"s":"0 V","k":"r","x":604,"y":-22},{"s":"0 V","k":"r","x":650,"y":-15},{"s":"0 V","k":"r","x":800,"y":-8},{"s":"0 V","k":"r","x":1000,"y":-5},{"s":"0 V","k":"r","x":1400,"y":-3},
{"s":"2 V","k":"t","x":-200,"y":210},{"s":"2 V","k":"t","x":-150,"y":156},{"s":"2 V","k":"t","x":-100,"y":103},{"s":"2 V","k":"t","x":-50,"y":50},{"s":"2 V","k":"t","x":0,"y":-2},{"s":"2 V","k":"t","x":36,"y":-39},{"s":"2 V","k":"t","x":38,"y":-16},{"s":"2 V","k":"t","x":45,"y":-11},{"s":"2 V","k":"t","x":70,"y":-9},{"s":"2 V","k":"t","x":150,"y":-7},{"s":"2 V","k":"t","x":400,"y":-5},{"s":"2 V","k":"t","x":800,"y":-3},{"s":"2 V","k":"t","x":1400,"y":-2},
{"s":"2 V","k":"r","x":-200,"y":212},{"s":"2 V","k":"r","x":-100,"y":118},{"s":"2 V","k":"r","x":0,"y":24},{"s":"2 V","k":"r","x":25,"y":0},{"s":"2 V","k":"r","x":100,"y":-76},{"s":"2 V","k":"r","x":200,"y":-177},{"s":"2 V","k":"r","x":400,"y":-379},{"s":"2 V","k":"r","x":600,"y":-581},{"s":"2 V","k":"r","x":630,"y":-611},{"s":"2 V","k":"r","x":631,"y":-20},{"s":"2 V","k":"r","x":680,"y":-14},{"s":"2 V","k":"r","x":800,"y":-9},{"s":"2 V","k":"r","x":1000,"y":-6},{"s":"2 V","k":"r","x":1400,"y":-3},
{"s":"4 V","k":"t","x":-200,"y":210},{"s":"4 V","k":"t","x":-150,"y":156},{"s":"4 V","k":"t","x":-100,"y":103},{"s":"4 V","k":"t","x":-50,"y":50},{"s":"4 V","k":"t","x":0,"y":-2},{"s":"4 V","k":"t","x":50,"y":-54},{"s":"4 V","k":"t","x":67,"y":-72},{"s":"4 V","k":"t","x":69,"y":-40},{"s":"4 V","k":"t","x":75,"y":-29},{"s":"4 V","k":"t","x":90,"y":-23},{"s":"4 V","k":"t","x":120,"y":-19},{"s":"4 V","k":"t","x":200,"y":-15},{"s":"4 V","k":"t","x":400,"y":-11},{"s":"4 V","k":"t","x":800,"y":-7},{"s":"4 V","k":"t","x":1400,"y":-4},
{"s":"4 V","k":"r","x":-200,"y":212},{"s":"4 V","k":"r","x":-100,"y":118},{"s":"4 V","k":"r","x":0,"y":24},{"s":"4 V","k":"r","x":25,"y":0},{"s":"4 V","k":"r","x":100,"y":-76},{"s":"4 V","k":"r","x":200,"y":-177},{"s":"4 V","k":"r","x":400,"y":-379},{"s":"4 V","k":"r","x":592,"y":-573},{"s":"4 V","k":"r","x":593,"y":-24},{"s":"4 V","k":"r","x":650,"y":-16},{"s":"4 V","k":"r","x":800,"y":-10},{"s":"4 V","k":"r","x":1000,"y":-7},{"s":"4 V","k":"r","x":1400,"y":-4},
{"s":"6 V","k":"t","x":-200,"y":210},{"s":"6 V","k":"t","x":-150,"y":156},{"s":"6 V","k":"t","x":-100,"y":103},{"s":"6 V","k":"t","x":-50,"y":50},{"s":"6 V","k":"t","x":0,"y":-2},{"s":"6 V","k":"t","x":50,"y":-54},{"s":"6 V","k":"t","x":103,"y":-109},{"s":"6 V","k":"t","x":108,"y":-70},{"s":"6 V","k":"t","x":115,"y":-55},{"s":"6 V","k":"t","x":132,"y":-46},{"s":"6 V","k":"t","x":180,"y":-37},{"s":"6 V","k":"t","x":272,"y":-28},{"s":"6 V","k":"t","x":400,"y":-21},{"s":"6 V","k":"t","x":800,"y":-13},{"s":"6 V","k":"t","x":1400,"y":-7},
{"s":"6 V","k":"r","x":-200,"y":212},{"s":"6 V","k":"r","x":-100,"y":118},{"s":"6 V","k":"r","x":0,"y":24},{"s":"6 V","k":"r","x":25,"y":0},{"s":"6 V","k":"r","x":100,"y":-76},{"s":"6 V","k":"r","x":200,"y":-177},{"s":"6 V","k":"r","x":400,"y":-379},{"s":"6 V","k":"r","x":587,"y":-568},{"s":"6 V","k":"r","x":588,"y":-24},{"s":"6 V","k":"r","x":650,"y":-16},{"s":"6 V","k":"r","x":800,"y":-10},{"s":"6 V","k":"r","x":1000,"y":-7},{"s":"6 V","k":"r","x":1400,"y":-5},
{"s":"8 V","k":"t","x":-200,"y":210},{"s":"8 V","k":"t","x":-150,"y":156},{"s":"8 V","k":"t","x":-100,"y":103},{"s":"8 V","k":"t","x":-50,"y":50},{"s":"8 V","k":"t","x":0,"y":-2},{"s":"8 V","k":"t","x":50,"y":-54},{"s":"8 V","k":"t","x":100,"y":-106},{"s":"8 V","k":"t","x":144,"y":-152},{"s":"8 V","k":"t","x":148,"y":-100},{"s":"8 V","k":"t","x":160,"y":-82},{"s":"8 V","k":"t","x":180,"y":-68},{"s":"8 V","k":"t","x":217,"y":-56},{"s":"8 V","k":"t","x":272,"y":-48},{"s":"8 V","k":"t","x":400,"y":-35},{"s":"8 V","k":"t","x":700,"y":-24},{"s":"8 V","k":"t","x":1000,"y":-18},{"s":"8 V","k":"t","x":1400,"y":-12},
{"s":"8 V","k":"r","x":-200,"y":212},{"s":"8 V","k":"r","x":-100,"y":118},{"s":"8 V","k":"r","x":0,"y":24},{"s":"8 V","k":"r","x":25,"y":0},{"s":"8 V","k":"r","x":100,"y":-76},{"s":"8 V","k":"r","x":200,"y":-177},{"s":"8 V","k":"r","x":400,"y":-379},{"s":"8 V","k":"r","x":600,"y":-581},{"s":"8 V","k":"r","x":606,"y":-587},{"s":"8 V","k":"r","x":607,"y":-21},{"s":"8 V","k":"r","x":650,"y":-15},{"s":"8 V","k":"r","x":800,"y":-10},{"s":"8 V","k":"r","x":1000,"y":-7},{"s":"8 V","k":"r","x":1400,"y":-5},
{"s":"10 V","k":"t","x":-200,"y":210},{"s":"10 V","k":"t","x":-150,"y":156},{"s":"10 V","k":"t","x":-100,"y":103},{"s":"10 V","k":"t","x":-50,"y":50},{"s":"10 V","k":"t","x":0,"y":-2},{"s":"10 V","k":"t","x":50,"y":-54},{"s":"10 V","k":"t","x":100,"y":-106},{"s":"10 V","k":"t","x":150,"y":-158},{"s":"10 V","k":"t","x":190,"y":-200},{"s":"10 V","k":"t","x":196,"y":-150},{"s":"10 V","k":"t","x":202,"y":-122},{"s":"10 V","k":"t","x":215,"y":-104},{"s":"10 V","k":"t","x":230,"y":-95},{"s":"10 V","k":"t","x":272,"y":-83},{"s":"10 V","k":"t","x":331,"y":-73},{"s":"10 V","k":"t","x":400,"y":-66},{"s":"10 V","k":"t","x":500,"y":-61},{"s":"10 V","k":"t","x":600,"y":-58},{"s":"10 V","k":"t","x":700,"y":-54},{"s":"10 V","k":"t","x":852,"y":-46},{"s":"10 V","k":"t","x":1000,"y":-38},{"s":"10 V","k":"t","x":1200,"y":-25},{"s":"10 V","k":"t","x":1400,"y":-12},
{"s":"10 V","k":"r","x":-200,"y":212},{"s":"10 V","k":"r","x":-100,"y":118},{"s":"10 V","k":"r","x":0,"y":24},{"s":"10 V","k":"r","x":25,"y":0},{"s":"10 V","k":"r","x":100,"y":-76},{"s":"10 V","k":"r","x":200,"y":-177},{"s":"10 V","k":"r","x":400,"y":-379},{"s":"10 V","k":"r","x":600,"y":-581},{"s":"10 V","k":"r","x":700,"y":-680},{"s":"10 V","k":"r","x":750,"y":-733},{"s":"10 V","k":"r","x":800,"y":-781},{"s":"10 V","k":"r","x":850,"y":-834},{"s":"10 V","k":"r","x":900,"y":-882},{"s":"10 V","k":"r","x":950,"y":-935},{"s":"10 V","k":"r","x":1000,"y":-983},{"s":"10 V","k":"r","x":1050,"y":-1036},{"s":"10 V","k":"r","x":1100,"y":-1084},{"s":"10 V","k":"r","x":1150,"y":-1137},{"s":"10 V","k":"r","x":1200,"y":-1186},{"s":"10 V","k":"r","x":1237,"y":-1225},{"s":"10 V","k":"r","x":1242,"y":-20},{"s":"10 V","k":"r","x":1300,"y":-14},{"s":"10 V","k":"r","x":1400,"y":-10}
]
},
"vconcat": [
{
  "width": 437, "height": 321,
  "layer": [
    {"layer": [
      {"data": {"name": "aP"}, "mark": {"type": "line", "interpolate": "monotone", "strokeWidth": 1.8},
       "encoding": {
         "x": {"field": "x", "type": "quantitative", "scale": {"domain": [306, 309.5], "nice": false, "zero": false},
               "axis": {"orient": "bottom", "values": [306, 306.5, 307, 307.5, 308, 308.5, 309, 309.5], "format": "d", "labelExpr": "datum.value % 1 == 0 ? datum.label : ''", "labelFlush": false, "labelOverlap": false, "labelPadding": 7, "tickSize": {"condition": {"test": "datum.value % 1 != 0", "value": 5}, "value": 9}, "grid": true, "gridDash": [1.5, 2], "gridColor": "#8a8a8a", "gridWidth": 1, "title": "Frequency (khz)", "titleColor": "#555555", "titleY": 49, "titleBaseline": "middle"}},
         "y": {"field": "y", "type": "quantitative", "scale": {"domain": [-180, 180], "nice": false, "zero": false},
               "axis": {"orient": "left", "values": [-180, -150, -120, -90, -60, -30, 0, 30, 60, 90, 120, 150, 180], "labelExpr": "datum.value % 60 == 0 ? datum.label : ''", "labelFlush": false, "labelOverlap": false, "labelPadding": 5, "tickSize": {"condition": {"test": "datum.value % 60 != 0", "value": 4}, "value": 8}, "grid": false, "title": "Phase (°)", "titleColor": "#1c1c8f", "titleX": -50.5, "titleY": 166, "titleAngle": -90, "titleBaseline": "middle"}},
         "color": {"field": "s", "type": "nominal", "scale": {"domain": ["100 nm", "10 nm", "5 nm", "4 nm", "3 nm", "2 nm", "1 nm", "0 nm"], "range": ["#808000", "#0b0b8a", "#8b008b", "#8b0000", "#008000", "#008b8b", "#1a1aa6", "#ff8000"]},
                   "legend": {"orient": "none", "legendX": 347, "legendY": 30, "title": null, "symbolType": "stroke", "symbolSize": 729, "symbolStrokeWidth": 2.5, "labelFontSize": 12, "labelFontWeight": "bold", "labelColor": "#000000", "clipHeight": 14.1, "rowPadding": 0, "labelOffset": 3, "padding": 0}}
       }},
      {"data": {"values": [{}]}, "mark": {"type": "text", "text": "Bias = 0V", "fontSize": 16, "fontWeight": "bold", "color": "#4a4a4a", "align": "center", "baseline": "middle"},
       "encoding": {"x": {"datum": 306.864, "type": "quantitative", "scale": {"domain": [306, 309.5], "nice": false, "zero": false}, "axis": null}, "y": {"datum": 150, "type": "quantitative", "scale": {"domain": [-180, 180], "nice": false, "zero": false}, "axis": null}}},
      {"data": {"values": [{}]}, "mark": {"type": "rule", "color": "#14149a", "strokeWidth": 3},
       "encoding": {"x": {"datum": 306.15, "type": "quantitative", "scale": {"domain": [306, 309.5], "nice": false, "zero": false}, "axis": null}, "x2": {"datum": 306.374}, "y": {"datum": 72.7, "type": "quantitative", "scale": {"domain": [-180, 180], "nice": false, "zero": false}, "axis": null}}},
      {"data": {"values": [{}]}, "mark": {"type": "point", "shape": "triangle-left", "filled": true, "color": "#14149a", "size": 70, "opacity": 1},
       "encoding": {"x": {"datum": 306.13, "type": "quantitative", "scale": {"domain": [306, 309.5], "nice": false, "zero": false}, "axis": null}, "y": {"datum": 72.7, "type": "quantitative", "scale": {"domain": [-180, 180], "nice": false, "zero": false}, "axis": null}}},
      {"data": {"values": [{}]}, "mark": {"type": "text", "text": "a", "fontSize": 30, "fontWeight": "bold", "color": "#000000", "align": "left", "baseline": "alphabetic"},
       "encoding": {"x": {"datum": 305.4824, "type": "quantitative", "scale": {"domain": [306, 309.5], "nice": false, "zero": false}, "axis": null}, "y": {"datum": 169.6, "type": "quantitative", "scale": {"domain": [-180, 180], "nice": false, "zero": false}, "axis": null}}}
    ],
    "resolve": {"axis": {"x": "independent", "y": "independent"}}},
    {"layer": [
      {"data": {"name": "aA"}, "mark": {"type": "line", "interpolate": "monotone", "strokeWidth": 1.8},
       "encoding": {
         "x": {"field": "x", "type": "quantitative", "scale": {"domain": [306, 309.5], "nice": false, "zero": false}, "axis": null},
         "y": {"field": "y", "type": "quantitative", "scale": {"domain": [-1.2, 0.4], "nice": false, "zero": false},
               "axis": {"orient": "right", "values": [-1.2, -1, -0.8, -0.6, -0.4, -0.2, 0, 0.2, 0.4], "labelExpr": "round(datum.value*10) % 4 == 0 ? format(datum.value, '.1f') : ''", "labelFlush": false, "labelOverlap": false, "labelPadding": 5, "tickSize": {"condition": {"test": "round(datum.value*10) % 4 != 0", "value": 4}, "value": 8}, "grid": true, "gridDash": [1.5, 2], "gridColor": "#8a8a8a", "gridWidth": 1, "title": "Amplitude (A.U.)", "titleColor": "#8c8c0a", "titleX": 51.5, "titleY": 158, "titleAngle": -90, "titleBaseline": "middle"}},
         "color": {"field": "s", "type": "nominal", "scale": {"domain": ["100 nm", "10 nm", "5 nm", "4 nm", "3 nm", "2 nm", "1 nm", "0 nm"], "range": ["#808000", "#0b0b8a", "#8b008b", "#8b0000", "#008000", "#008b8b", "#1a1aa6", "#ff8000"]}, "legend": null}
       }},
      {"data": {"values": [{}]}, "mark": {"type": "rule", "color": "#808000", "strokeWidth": 3},
       "encoding": {"x": {"datum": 308.05, "type": "quantitative", "scale": {"domain": [306, 309.5], "nice": false, "zero": false}, "axis": null}, "x2": {"datum": 308.29}, "y": {"datum": 0.234, "type": "quantitative", "scale": {"domain": [-1.2, 0.4], "nice": false, "zero": false}, "axis": null}}},
      {"data": {"values": [{}]}, "mark": {"type": "point", "shape": "triangle-right", "filled": true, "color": "#808000", "size": 70, "opacity": 1},
       "encoding": {"x": {"datum": 308.305, "type": "quantitative", "scale": {"domain": [306, 309.5], "nice": false, "zero": false}, "axis": null}, "y": {"datum": 0.234, "type": "quantitative", "scale": {"domain": [-1.2, 0.4], "nice": false, "zero": false}, "axis": null}}}
    ],
    "resolve": {"axis": {"x": "independent", "y": "independent"}}}
  ],
  "resolve": {"scale": {"y": "independent"}, "axis": {"x": "independent", "y": "independent"}}
},
{
  "vconcat": [
  {
    "width": 437, "height": 323,
    "layer": [
      {"layer": [
        {"data": {"name": "bP"}, "mark": {"type": "line", "interpolate": "monotone", "strokeWidth": 1.8},
         "encoding": {
           "x": {"field": "x", "type": "quantitative", "scale": {"domain": [306, 309.5], "nice": false, "zero": false},
                 "axis": {"orient": "bottom", "values": [306, 306.5, 307, 307.5, 308, 308.5, 309, 309.5], "format": "d", "labelExpr": "datum.value % 1 == 0 ? datum.label : ''", "labelFlush": false, "labelOverlap": false, "labelPadding": 7, "tickSize": {"condition": {"test": "datum.value % 1 != 0", "value": 5}, "value": 9}, "grid": true, "gridDash": [1.5, 2], "gridColor": "#8a8a8a", "gridWidth": 1, "title": "Frequency (khz)", "titleColor": "#555555", "titleY": 49.5, "titleBaseline": "middle"}},
           "y": {"field": "y", "type": "quantitative", "scale": {"domain": [-180, 180], "nice": false, "zero": false},
                 "axis": {"orient": "left", "values": [-180, -150, -120, -90, -60, -30, 0, 30, 60, 90, 120, 150, 180], "labelExpr": "datum.value % 60 == 0 ? datum.label : ''", "labelFlush": false, "labelOverlap": false, "labelPadding": 5, "tickSize": {"condition": {"test": "datum.value % 60 != 0", "value": 4}, "value": 8}, "grid": false, "title": "Phase (°)", "titleColor": "#1c1c8f", "titleX": -50.5, "titleY": 167, "titleAngle": -90, "titleBaseline": "middle"}},
           "color": {"field": "s", "type": "nominal", "scale": {"domain": ["100 nm", "10 nm", "5 nm", "4 nm", "3 nm", "2 nm", "1 nm", "0 nm"], "range": ["#808000", "#0b0b8a", "#8b008b", "#8b0000", "#008000", "#008b8b", "#1a1aa6", "#ff8000"]},
                     "legend": {"orient": "none", "legendX": 347, "legendY": 28.2, "title": null, "symbolType": "stroke", "symbolSize": 729, "symbolStrokeWidth": 2.5, "labelFontSize": 12, "labelFontWeight": "bold", "labelColor": "#000000", "clipHeight": 14.1, "rowPadding": 0, "labelOffset": 3, "padding": 0}}
         }},
        {"data": {"values": [{}]}, "mark": {"type": "text", "text": "Bias = 10V", "fontSize": 16, "fontWeight": "bold", "color": "#4a4a4a", "align": "center", "baseline": "middle"},
         "encoding": {"x": {"datum": 306.894, "type": "quantitative", "scale": {"domain": [306, 309.5], "nice": false, "zero": false}, "axis": null}, "y": {"datum": 149, "type": "quantitative", "scale": {"domain": [-180, 180], "nice": false, "zero": false}, "axis": null}}},
        {"data": {"values": [{}]}, "mark": {"type": "rule", "color": "#14149a", "strokeWidth": 3},
         "encoding": {"x": {"datum": 306.2, "type": "quantitative", "scale": {"domain": [306, 309.5], "nice": false, "zero": false}, "axis": null}, "x2": {"datum": 306.43}, "y": {"datum": 70, "type": "quantitative", "scale": {"domain": [-180, 180], "nice": false, "zero": false}, "axis": null}}},
        {"data": {"values": [{}]}, "mark": {"type": "point", "shape": "triangle-left", "filled": true, "color": "#14149a", "size": 70, "opacity": 1},
         "encoding": {"x": {"datum": 306.178, "type": "quantitative", "scale": {"domain": [306, 309.5], "nice": false, "zero": false}, "axis": null}, "y": {"datum": 70, "type": "quantitative", "scale": {"domain": [-180, 180], "nice": false, "zero": false}, "axis": null}}},
        {"data": {"values": [{}]}, "mark": {"type": "text", "text": "b", "fontSize": 30, "fontWeight": "bold", "color": "#000000", "align": "left", "baseline": "alphabetic"},
         "encoding": {"x": {"datum": 305.488, "type": "quantitative", "scale": {"domain": [306, 309.5], "nice": false, "zero": false}, "axis": null}, "y": {"datum": 159.2, "type": "quantitative", "scale": {"domain": [-180, 180], "nice": false, "zero": false}, "axis": null}}}
      ],
      "resolve": {"axis": {"x": "independent", "y": "independent"}}},
      {"layer": [
        {"data": {"name": "bA"}, "mark": {"type": "line", "interpolate": "monotone", "strokeWidth": 1.8},
         "encoding": {
           "x": {"field": "x", "type": "quantitative", "scale": {"domain": [306, 309.5], "nice": false, "zero": false}, "axis": null},
           "y": {"field": "y", "type": "quantitative", "scale": {"domain": [-1.2, 0.4], "nice": false, "zero": false},
                 "axis": {"orient": "right", "values": [-1.2, -1, -0.8, -0.6, -0.4, -0.2, 0, 0.2, 0.4], "labelExpr": "round(datum.value*10) % 4 == 0 ? format(datum.value, '.1f') : ''", "labelFlush": false, "labelOverlap": false, "labelPadding": 5, "tickSize": {"condition": {"test": "round(datum.value*10) % 4 != 0", "value": 4}, "value": 8}, "grid": true, "gridDash": [1.5, 2], "gridColor": "#8a8a8a", "gridWidth": 1, "title": "Amplitude (A.U.)", "titleColor": "#8c8c0a", "titleX": 51.5, "titleY": 159, "titleAngle": -90, "titleBaseline": "middle"}},
           "color": {"field": "s", "type": "nominal", "scale": {"domain": ["100 nm", "10 nm", "5 nm", "4 nm", "3 nm", "2 nm", "1 nm", "0 nm"], "range": ["#808000", "#0b0b8a", "#8b008b", "#8b0000", "#008000", "#008b8b", "#1a1aa6", "#ff8000"]}, "legend": null}
         }},
        {"data": {"values": [{}]}, "mark": {"type": "rule", "color": "#808000", "strokeWidth": 3},
         "encoding": {"x": {"datum": 308.08, "type": "quantitative", "scale": {"domain": [306, 309.5], "nice": false, "zero": false}, "axis": null}, "x2": {"datum": 308.32}, "y": {"datum": 0.225, "type": "quantitative", "scale": {"domain": [-1.2, 0.4], "nice": false, "zero": false}, "axis": null}}},
        {"data": {"values": [{}]}, "mark": {"type": "point", "shape": "triangle-right", "filled": true, "color": "#808000", "size": 70, "opacity": 1},
         "encoding": {"x": {"datum": 308.335, "type": "quantitative", "scale": {"domain": [306, 309.5], "nice": false, "zero": false}, "axis": null}, "y": {"datum": 0.225, "type": "quantitative", "scale": {"domain": [-1.2, 0.4], "nice": false, "zero": false}, "axis": null}}}
      ],
      "resolve": {"axis": {"x": "independent", "y": "independent"}}}
    ],
    "resolve": {"scale": {"y": "independent"}, "axis": {"x": "independent", "y": "independent"}}
  },
  {
    "width": 439, "height": 290,
    "layer": [
      {"layer": [
        {"data": {"name": "c"}, "mark": {"type": "line", "strokeWidth": 1.8},
         "encoding": {
           "x": {"field": "x", "type": "quantitative", "scale": {"domain": [-200, 1400], "nice": false, "zero": false},
                 "axis": {"orient": "bottom", "values": [-200, 0, 200, 400, 600, 800, 1000, 1200, 1400], "format": "d", "labelExpr": "datum.value % 400 == 0 ? datum.label : ''", "labelFlush": false, "labelOverlap": false, "labelPadding": 6, "tickSize": {"condition": {"test": "datum.value % 400 != 0", "value": 4}, "value": 8}, "grid": true, "gridColor": "#d4d4d4", "gridWidth": 1.5, "gridOpacity": {"condition": {"test": "datum.value % 400 != 0", "value": 0}, "value": 1}, "title": "Piezo displacement (nm)", "titleColor": "#1a1a8c", "titleY": 48, "titleBaseline": "middle"}},
           "y": {"field": "y", "type": "quantitative", "scale": {"domain": [-1600, 400], "nice": false, "zero": false},
                 "axis": {"orient": "left", "values": [-1600, -1400, -1200, -1000, -800, -600, -400, -200, 0, 200, 400], "format": "d", "labelExpr": "datum.value % 400 == 0 ? datum.label : ''", "labelFlush": false, "labelOverlap": false, "labelPadding": 4, "tickSize": {"condition": {"test": "datum.value % 400 != 0", "value": 4}, "value": 8}, "grid": true, "gridColor": "#d4d4d4", "gridWidth": 1.5, "gridOpacity": {"condition": {"test": "datum.value % 400 != 0", "value": 0}, "value": 1}, "title": "TM Deflection (nm)", "titleColor": "#1a1a8c", "titleX": -59.7, "titleY": 150, "titleAngle": -90, "titleBaseline": "middle"}},
           "color": {"field": "s", "type": "nominal", "scale": {"domain": ["0 V", "2 V", "4 V", "6 V", "8 V", "10 V"], "range": ["#808000", "#0b0b8a", "#8b008b", "#8b0000", "#008000", "#ff8000"]},
                     "legend": {"orient": "none", "legendX": 233, "legendY": 192.6, "title": null, "symbolType": "stroke", "symbolSize": 729, "symbolStrokeWidth": 2.5, "labelFontSize": 12, "labelFontWeight": "normal", "labelColor": "#222222", "clipHeight": 14.2, "rowPadding": 0, "labelOffset": 4, "padding": 0}},
           "detail": {"field": "k", "type": "nominal"}
         }},
        {"data": {"values": [{}]}, "mark": {"type": "rect", "fillOpacity": 0, "stroke": "#ff2a2a", "strokeDash": [4, 3], "strokeWidth": 1.3},
         "encoding": {"x": {"datum": -30, "type": "quantitative", "scale": {"domain": [-200, 1400], "nice": false, "zero": false},
                            "axis": {"orient": "top", "values": [-200, 0, 200, 400, 600, 800, 1000, 1200, 1400], "labels": false, "domain": false, "grid": false, "tickSize": 4, "title": null}},
                      "x2": {"datum": 398},
                      "y": {"datum": 115, "type": "quantitative", "scale": {"domain": [-1600, 400], "nice": false, "zero": false},
                            "axis": {"orient": "right", "values": [-1600, -1400, -1200, -1000, -800, -600, -400, -200, 0, 200, 400], "labels": false, "domain": false, "grid": false, "tickSize": 4, "title": null}},
                      "y2": {"datum": -388}}},
        {"data": {"values": [{}]}, "mark": {"type": "rule", "color": "#ff2a2a", "strokeWidth": 1},
         "encoding": {"x": {"datum": -30, "type": "quantitative", "scale": {"domain": [-200, 1400], "nice": false, "zero": false}, "axis": null}, "x2": {"datum": -50.6}, "y": {"datum": -388, "type": "quantitative", "scale": {"domain": [-1600, 400], "nice": false, "zero": false}, "axis": null}, "y2": {"datum": -510}}},
        {"data": {"values": [{}]}, "mark": {"type": "rule", "color": "#ff2a2a", "strokeWidth": 1},
         "encoding": {"x": {"datum": 398, "type": "quantitative", "scale": {"domain": [-200, 1400], "nice": false, "zero": false}, "axis": null}, "x2": {"datum": 463}, "y": {"datum": -388, "type": "quantitative", "scale": {"domain": [-1600, 400], "nice": false, "zero": false}, "axis": null}, "y2": {"datum": -510}}},
        {"data": {"values": [{}]}, "mark": {"type": "text", "text": "Trace", "fontSize": 12, "color": "#111111", "align": "center", "baseline": "middle"},
         "encoding": {"x": {"datum": 1272, "type": "quantitative", "scale": {"domain": [-200, 1400], "nice": false, "zero": false}, "axis": null}, "y": {"datum": 138, "type": "quantitative", "scale": {"domain": [-1600, 400], "nice": false, "zero": false}, "axis": null}}},
        {"data": {"values": [{}]}, "mark": {"type": "text", "text": "Re-trace", "fontSize": 12, "color": "#111111", "align": "center", "baseline": "middle"},
         "encoding": {"x": {"datum": 1086, "type": "quantitative", "scale": {"domain": [-200, 1400], "nice": false, "zero": false}, "axis": null}, "y": {"datum": -1352, "type": "quantitative", "scale": {"domain": [-1600, 400], "nice": false, "zero": false}, "axis": null}}},
        {"data": {"values": [{}]}, "mark": {"type": "rule", "color": "#000000", "strokeWidth": 2},
         "encoding": {"x": {"datum": 1195, "type": "quantitative", "scale": {"domain": [-200, 1400], "nice": false, "zero": false}, "axis": null}, "x2": {"datum": 1371}, "y": {"datum": 71, "type": "quantitative", "scale": {"domain": [-1600, 400], "nice": false, "zero": false}, "axis": null}}},
        {"data": {"values": [{}]}, "mark": {"type": "point", "shape": "triangle-left", "filled": true, "color": "#000000", "size": 40, "opacity": 1},
         "encoding": {"x": {"datum": 1185, "type": "quantitative", "scale": {"domain": [-200, 1400], "nice": false, "zero": false}, "axis": null}, "y": {"datum": 71, "type": "quantitative", "scale": {"domain": [-1600, 400], "nice": false, "zero": false}, "axis": null}}},
        {"data": {"values": [{}]}, "mark": {"type": "rule", "color": "#000000", "strokeWidth": 2},
         "encoding": {"x": {"datum": 1046, "type": "quantitative", "scale": {"domain": [-200, 1400], "nice": false, "zero": false}, "axis": null}, "x2": {"datum": 1212}, "y": {"datum": -1143, "type": "quantitative", "scale": {"domain": [-1600, 400], "nice": false, "zero": false}, "axis": null}, "y2": {"datum": -1308}}},
        {"data": {"values": [{}]}, "mark": {"type": "point", "shape": "triangle-right", "filled": true, "color": "#000000", "size": 40, "opacity": 1, "angle": 28},
         "encoding": {"x": {"datum": 1222, "type": "quantitative", "scale": {"domain": [-200, 1400], "nice": false, "zero": false}, "axis": null}, "y": {"datum": -1318, "type": "quantitative", "scale": {"domain": [-1600, 400], "nice": false, "zero": false}, "axis": null}}},
        {"data": {"values": [{}]}, "mark": {"type": "text", "text": "c", "fontSize": 30, "fontWeight": "bold", "color": "#000000", "align": "left", "baseline": "alphabetic"},
         "encoding": {"x": {"datum": -433, "type": "quantitative", "scale": {"domain": [-200, 1400], "nice": false, "zero": false}, "axis": null}, "y": {"datum": 322, "type": "quantitative", "scale": {"domain": [-1600, 400], "nice": false, "zero": false}, "axis": null}}}
      ],
      "resolve": {"axis": {"x": "independent", "y": "independent"}}},
      {"layer": [
        {"data": {"values": [{}]}, "mark": {"type": "rect", "fill": "#ffffff", "stroke": "#000000", "strokeWidth": 1.2},
         "encoding": {"x": {"datum": -50, "type": "quantitative", "scale": {"domain": [-50, 400], "nice": false, "zero": false, "range": [41, 182]}, "axis": null}, "x2": {"datum": 400},
                      "y": {"datum": -250, "type": "quantitative", "scale": {"domain": [-250, 50], "nice": false, "zero": false, "range": [260, 132]}, "axis": null}, "y2": {"datum": 50}}},
        {"data": {"name": "c"}, "transform": [{"filter": "datum.k == 't' && datum.x >= -50 && datum.x <= 400"}],
         "mark": {"type": "line", "strokeWidth": 1.8},
         "encoding": {
           "x": {"field": "x", "type": "quantitative", "scale": {"domain": [-50, 400], "nice": false, "zero": false, "range": [41, 182]},
                 "axis": {"orient": "bottom", "offset": -30, "zindex": 1, "values": [0, 100, 200, 300, 400], "format": "d", "labelFlush": false, "labelOverlap": false, "labelFontWeight": "normal", "labelFontSize": 10.5, "labelColor": "#333333", "labelPadding": 1, "tickSize": 3, "tickWidth": 1, "domainWidth": 1.2, "grid": false, "title": "Piezo displacement (nm)", "titleFontWeight": "normal", "titleFontSize": 12, "titleColor": "#3535a5", "titleY": 23, "titleBaseline": "middle"}},
           "y": {"field": "y", "type": "quantitative", "scale": {"domain": [-250, 50], "nice": false, "zero": false, "range": [260, 132]},
                 "axis": {"orient": "left", "offset": -41, "zindex": 1, "values": [-250, -200, -150, -100, -50, 0, 50], "format": "d", "labelFlush": false, "labelOverlap": false, "labelFontWeight": "normal", "labelFontSize": 10.5, "labelColor": "#333333", "labelPadding": 2, "tickSize": 3, "tickWidth": 1, "domainWidth": 1.2, "grid": false, "title": "TM Deflection (nm)", "titleFontWeight": "normal", "titleFontSize": 12, "titleColor": "#3535a5", "titleX": -34, "titleAngle": -90, "titleBaseline": "middle"}},
           "color": {"field": "s", "type": "nominal", "scale": {"domain": ["0 V", "2 V", "4 V", "6 V", "8 V", "10 V"], "range": ["#808000", "#0b0b8a", "#8b008b", "#8b0000", "#008000", "#ff8000"]}, "legend": null}
         }}
      ],
      "resolve": {"axis": {"x": "independent", "y": "independent"}}}
    ],
    "resolve": {"scale": {"x": "independent", "y": "independent"}, "axis": {"x": "independent", "y": "independent"}}
  }
  ],
  "spacing": 95,
  "bounds": "flush",
  "resolve": {"scale": {"color": "independent"}, "legend": {"color": "independent"}}
}
],
"spacing": 93,
"bounds": "flush",
"resolve": {"scale": {"color": "independent"}, "legend": {"color": "independent"}}
}
